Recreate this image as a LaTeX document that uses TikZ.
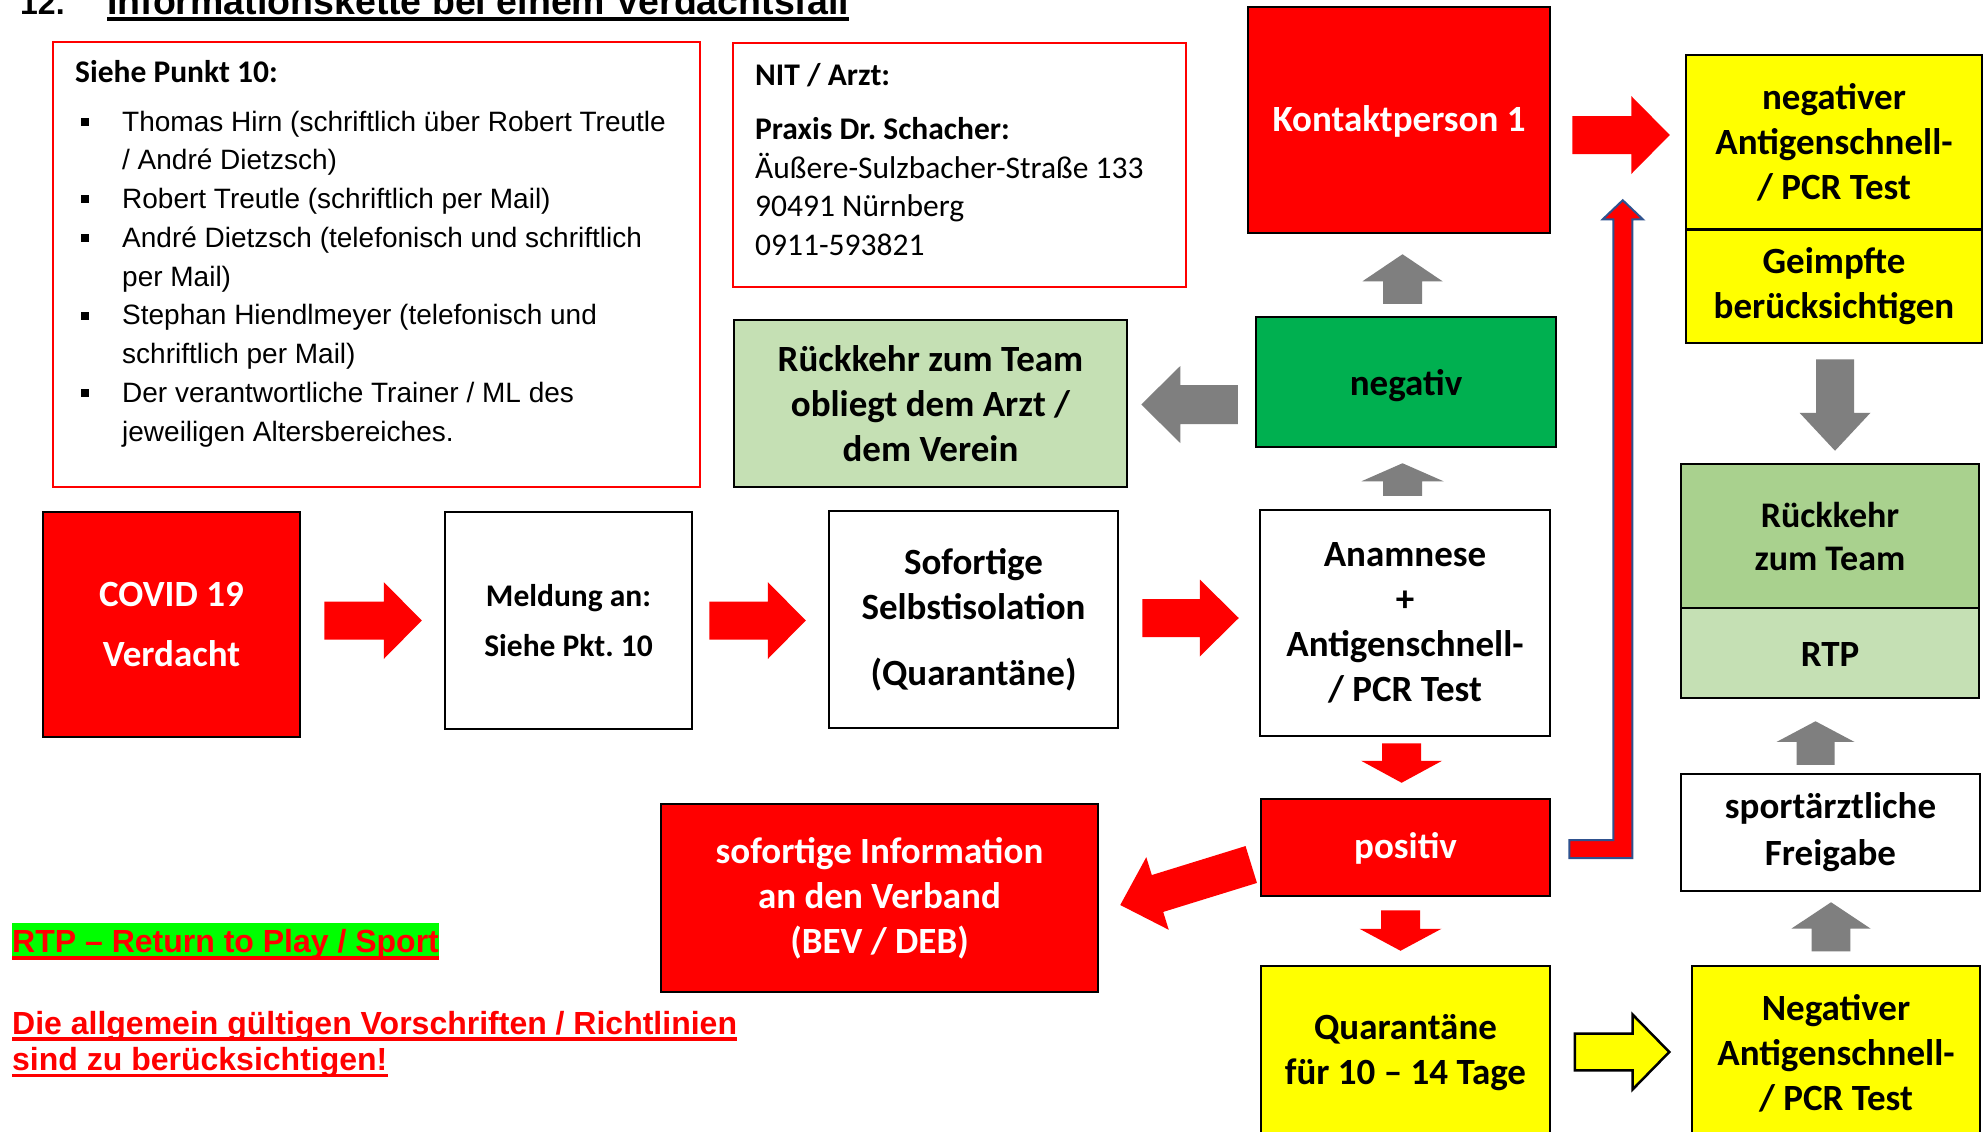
\documentclass[tikz,border=0pt]{standalone}
\usepackage{fontspec}
\setmainfont{Carlito}
\newfontfamily\arialf{Liberation Sans}
\usetikzlibrary{calc}
\definecolor{ored}{HTML}{FF0000}
\definecolor{ogreen}{HTML}{00B050}
\definecolor{lgreen}{HTML}{C5E0B4}
\definecolor{mgreen}{HTML}{A9D18E}
\definecolor{oyellow}{HTML}{FFFF00}
\definecolor{ogrey}{HTML}{7F7F7F}
\definecolor{oblue}{HTML}{2F528F}
\definecolor{hlgreen}{HTML}{00FF00}
% #1 style, #2 tail, #3 tip, #4 shaft half width, #5 head half width, #6 head length
\newcommand\blockarrow[6]{%
  \coordinate (ba-s) at (#2);
  \coordinate (ba-t) at (#3);
  \coordinate (ba-b) at ($(ba-t)!#6!(ba-s)$);
  \path[#1] ($(ba-s)!#4!90:(ba-t)$) -- ($(ba-b)!#4!90:(ba-t)$) -- ($(ba-b)!#5!90:(ba-t)$) -- (ba-t)
    -- ($(ba-b)!#5!-90:(ba-t)$) -- ($(ba-b)!#4!-90:(ba-t)$) -- ($(ba-s)!#4!-90:(ba-t)$) -- cycle;
}
\newcommand\lbullet{\makebox[41pt][l]{\raisebox{5.5pt}{\rule{8pt}{8pt}}}}
\tikzset{
  bx/.style={draw=black, line width=2.5pt, inner sep=0pt, align=center,
    font=\bfseries\fontsize{37}{45}\selectfont, text=black},
  redarr/.style={fill=ored, draw=none},
  greyarr/.style={fill=ogrey, draw=none},
  yelarr/.style={fill=oyellow, draw=black, line width=2.5pt, line join=miter},
  bentarr/.style={fill=ored, draw=oblue, line width=2pt, line join=miter},
  infobox/.style={draw=ored, line width=2.5pt, fill=white, inner sep=0pt},
  plain/.style={anchor=base west, inner sep=0pt},
  notefont/.style={font=\arialf\bfseries\fontsize{32}{38}\selectfont, text=ored},
}
\frenchspacing
\begin{document}
\frenchspacing
\begin{tikzpicture}[x=1pt, y=-1pt]
\fill[white] (0,0) rectangle (1984,1132);
\useasboundingbox (0,0) rectangle (1984,1132);

% title
\node[plain, font=\arialf\bfseries\fontsize{32}{38}\selectfont] (tnum) at (20,14.3) {12.};
\node[plain, font=\arialf\bfseries\fontsize{37.5}{40}\selectfont] (title) at (107,14.3) {Informationskette bei einem Verdachtsfall};
\draw[black, line width=3.4pt] ($(title.base west)+(0,4.7)$) -- ($(title.base east)+(0,4.7)$);

% info boxes
\node[infobox, minimum width=647pt, minimum height=445pt] (listbox) at (376.5,264.5) {};
\node[infobox, minimum width=453pt, minimum height=244pt] (nitbox) at (959.5,165) {};
\node[plain, font=\bfseries\fontsize{31.5}{38}\selectfont] (listhead) at (75,83) {Siehe Punkt 10:};
\node[plain] (list) at (81,131) {\parbox[t]{610pt}{\frenchspacing\arialf\fontsize{28}{38.8}\selectfont
\lbullet Thomas Hirn (schriftlich über Robert Treutle\\
\hspace*{41pt}/ André Dietzsch)\\
\lbullet Robert Treutle (schriftlich per Mail)\\
\lbullet André Dietzsch (telefonisch und schriftlich\\
\hspace*{41pt}per Mail)\\
\lbullet Stephan Hiendlmeyer (telefonisch und\\
\hspace*{41pt}schriftlich per Mail)\\
\lbullet Der verantwortliche Trainer / ML des\\
\hspace*{41pt}jeweiligen Altersbereiches.}};
\node[plain, font=\bfseries\fontsize{31.5}{38}\selectfont] (nithead) at (755,85) {NIT / Arzt:};
\node[plain] (nitaddr) at (755,139.5) {\parbox[t]{420pt}{\frenchspacing\fontsize{31.5}{38.5}\selectfont
\textbf{Praxis Dr. Schacher:}\\
Äußere-Sulzbacher-Straße 133\\
90491 Nürnberg\\
0911-593821}};

% flow boxes
\node[bx, fill=ored, text=white, minimum width=257pt, minimum height=225pt, font=\bfseries\fontsize{37}{60}\selectfont] (covid) at (171.5,624.5) {COVID 19\\Verdacht};
\node[bx, fill=white, minimum width=247pt, minimum height=217pt, font=\bfseries\fontsize{31.5}{50}\selectfont] (meld) at (568.5,620.5) {Meldung an:\\Siehe Pkt. 10};
\node[bx, fill=white, minimum width=289pt, minimum height=217pt] (sof) at (973.5,619.5) {Sofortige\\Selbstisolation\\[21pt](Quarantäne)};
\node[bx, fill=white, minimum width=290pt, minimum height=226pt] (anam) at (1405,623) {Anamnese\\+\\Antigenschnell-\\/ PCR Test};
\node[bx, fill=ogreen, minimum width=300pt, minimum height=130pt, text height=26pt, text depth=0pt] (neg) at (1406,382) {negativ};
\node[bx, fill=lgreen, minimum width=393pt, minimum height=167pt] (rueck1) at (930.5,403.5) {Rückkehr zum Team\\obliegt dem Arzt /\\dem Verein};
\node[bx, fill=ored, text=white, minimum width=302pt, minimum height=226pt, text height=23.4pt, text depth=0pt] (kontakt) at (1399,120) {Kontaktperson 1};
\node[bx, fill=oyellow, minimum width=296pt, minimum height=174pt] (negA) at (1834,142) {negativer\\Antigenschnell-\\/ PCR Test};
\node[bx, fill=oyellow, minimum width=296pt, minimum height=113pt] (geimpft) at (1834,286.5) {Geimpfte\\berücksichtigen};
\node[bx, fill=mgreen, minimum width=298pt, minimum height=144pt, font=\bfseries\fontsize{36}{43}\selectfont] (rueck2) at (1830,536) {Rückkehr\\zum Team};
\node[bx, fill=lgreen, minimum width=298pt, minimum height=90pt, text height=27pt, text depth=0pt] (rtp) at (1830,653) {RTP};
\node[bx, fill=white, minimum width=299pt, minimum height=117pt, font=\bfseries\fontsize{37}{47}\selectfont] (sport) at (1830.5,832.5) {sportärztliche\\Freigabe};
\node[bx, fill=oyellow, minimum width=288pt, minimum height=174pt] (negB) at (1836,1053) {Negativer\\Antigenschnell-\\/ PCR Test};
\node[bx, fill=oyellow, minimum width=289pt, minimum height=174pt] (quar) at (1405.5,1053) {Quarantäne\\für 10 – 14 Tage};
\node[bx, fill=ored, text=white, minimum width=289pt, minimum height=97pt, text height=21.6pt, text depth=0pt] (pos) at (1405.5,847.5) {positiv};
\node[bx, fill=ored, text=white, minimum width=437pt, minimum height=188pt] (info) at (879.5,898) {sofortige Information\\an den Verband\\(BEV / DEB)};

% block arrows
\blockarrow{redarr}{$(covid.east |- meld.west)+(23,0)$}{$(meld.west)+(-22,0)$}{19pt}{38.5pt}{38pt}
\blockarrow{redarr}{$(meld.east)+(16,0)$}{$(sof.west |- meld.east)+(-22,0)$}{19pt}{38.5pt}{38pt}
\blockarrow{redarr}{$(sof.east)+(23,-1.5)$}{$(anam.west |- sof.east)+(-20,-1.5)$}{19pt}{38.5pt}{39pt}
\blockarrow{greyarr}{$(neg.west)+(-17,22.5)$}{$(rueck1.east)+(13,1)$}{19.5pt}{38.5pt}{39pt}
\blockarrow{greyarr}{$(anam.north)+(-2.5,-13)$}{$(neg.south)+(-3.5,15)$}{19.5pt}{41pt}{18pt}
\blockarrow{greyarr}{$(neg.north)+(-3.5,-12)$}{$(kontakt.south)+(3.5,20)$}{19.5pt}{40pt}{27pt}
\blockarrow{redarr}{$(kontakt.east)+(21,15)$}{$(negA.west)+(-15,-7)$}{19pt}{39pt}{38.5pt}
\blockarrow{redarr}{$(anam.south)+(-3.4,6)$}{$(pos.north)+(-3.9,-15)$}{19.5pt}{40.5pt}{22pt}
\blockarrow{redarr}{$(pos.south)+(-5,13)$}{$(quar.north)+(-5,-14)$}{19.5pt}{41pt}{22pt}
\blockarrow{redarr}{$(pos.west)+(-8.5,17)$}{$(info.east)+(21,7)$}{19.3pt}{38pt}{39pt}
\blockarrow{yelarr}{$(quar.east)+(23.5,-1)$}{$(negB.west)+(-21.5,-1)$}{18.3pt}{37.5pt}{36.7pt}
\blockarrow{greyarr}{$(negB.north)+(-5,-13.3)$}{$(sport.south)+(0.5,10)$}{19.3pt}{39.5pt}{26.3pt}
\blockarrow{greyarr}{$(sport.north)+(-15,-8)$}{$(rtp.south)+(-14.5,22)$}{19pt}{39pt}{20.7pt}
\blockarrow{greyarr}{$(geimpft.south)+(1,15)$}{$(rueck2.north)+(5,-12)$}{19pt}{35.5pt}{38pt}

% bent arrow from positiv up to Kontaktperson level
\coordinate (bstart) at ($(pos.east)+(18,1.5)$);
\coordinate (btip) at ($(kontakt.south east)+(71.5,-34)$);
\draw[bentarr] ($(bstart)+(0,-9)$) -- ($(btip |- bstart)+(-9.5,-9)$) -- ($(btip)+(-9.5,19)$)
  -- ($(btip)+(-20,19)$) -- (btip) -- ($(btip)+(20,19)$) -- ($(btip)+(9.5,19)$)
  -- ($(btip |- bstart)+(9.5,9)$) -- ($(bstart)+(0,9)$) -- cycle;

% notes bottom left
\node[plain, notefont, fill=hlgreen, text height=30pt, text depth=3.3pt] (rtpnote) at (12,952.7) {RTP – Return to Play / Sport};
\draw[ored, line width=3.5pt] ($(rtpnote.base west)+(0,5.3)$) -- ($(rtpnote.base east)+(0,5.3)$);
\node[plain, notefont] (rule1) at (12,1034) {Die allgemein gültigen Vorschriften / Richtlinien};
\draw[ored, line width=3.5pt] ($(rule1.base west)+(0,5)$) -- ($(rule1.base east)+(0,5)$);
\node[plain, notefont] (rule2) at (12,1070.7) {sind zu berücksichtigen!};
\draw[ored, line width=3.5pt] ($(rule2.base west)+(0,5)$) -- ($(rule2.base east)+(0,5)$);
\end{tikzpicture}
\end{document}
